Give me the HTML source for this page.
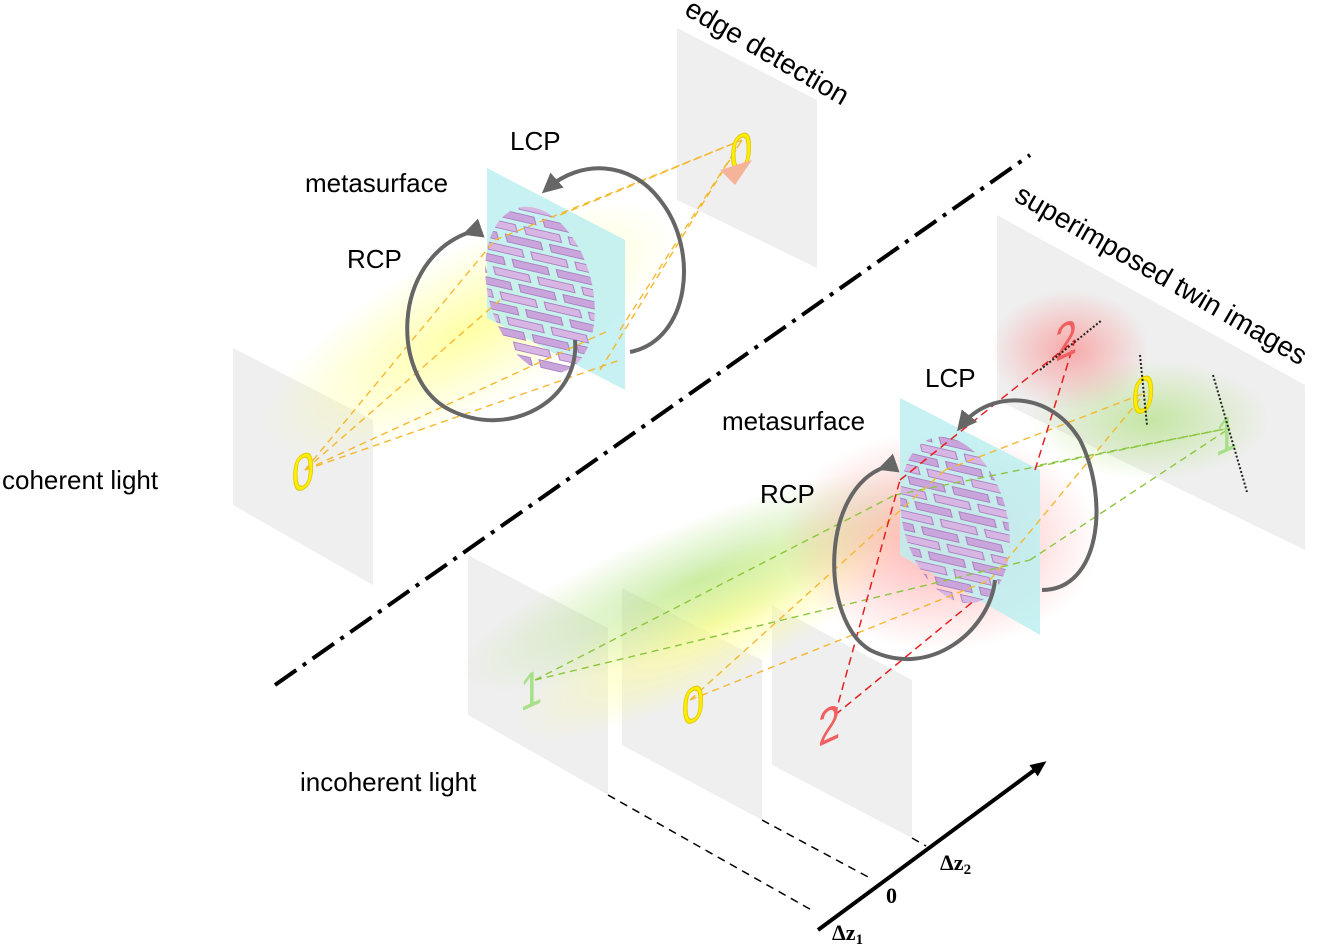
<!DOCTYPE html>
<html><head><meta charset="utf-8"><style>
html,body{margin:0;padding:0;background:#fff;}
svg{display:block;font-family:"Liberation Sans",Arial,sans-serif;}
</style></head><body>
<svg width="1328" height="945" viewBox="0 0 1328 945" xmlns="http://www.w3.org/2000/svg">
<defs>
<radialGradient id="gy"><stop offset="0" stop-color="#ffff80" stop-opacity=".7"/><stop offset="1" stop-color="#ffff80" stop-opacity="0"/></radialGradient>
<radialGradient id="gg"><stop offset="0" stop-color="#a8e070" stop-opacity=".6"/><stop offset="1" stop-color="#a8e070" stop-opacity="0"/></radialGradient>
<radialGradient id="gr"><stop offset="0" stop-color="#ff7070" stop-opacity=".55"/><stop offset="1" stop-color="#ff7070" stop-opacity="0"/></radialGradient>
<pattern id="bricks" width="40" height="26" patternUnits="userSpaceOnUse" patternTransform="skewY(28)">
<rect x="1" y="2" width="32" height="8" fill="#c9a5dc" stroke="#a87fc0" stroke-width="1"/>
<rect x="-19" y="15" width="32" height="8" fill="#d8b6e4" stroke="#a87fc0" stroke-width="1"/>
<rect x="21" y="15" width="32" height="8" fill="#d8b6e4" stroke="#a87fc0" stroke-width="1"/>
</pattern>
<marker id="ah" markerUnits="userSpaceOnUse" markerWidth="16" markerHeight="14" refX="8" refY="7" orient="auto"><path d="M0,0 L16,7 L0,14 z" fill="#000"/></marker>
<marker id="ahg" markerWidth="5" markerHeight="5" refX="3" refY="2.5" orient="auto"><path d="M0,0 L5,2.5 L0,5 z" fill="#666"/></marker>
</defs>

<polygon points="233,348 373,420 373,585 233,505" fill="#efefef"/>
<polygon points="677,28 817,100 817,268 677,200" fill="#efefef"/>
<polygon points="997,215 1305,385 1305,550 997,400" fill="#efefef"/>
<polygon points="468,555 608,628 608,795 468,715" fill="#efefef"/>
<polygon points="622,588 762,660 762,820 622,745" fill="#efefef"/>
<polygon points="772,605 912,680 912,838 772,765" fill="#efefef"/>

<ellipse cx="470" cy="330" rx="230" ry="80" transform="rotate(-28 470 330)" fill="url(#gy)"/>
<ellipse cx="720" cy="620" rx="230" ry="60" transform="rotate(-28 720 620)" fill="url(#gy)"/>
<ellipse cx="700" cy="580" rx="260" ry="60" transform="rotate(-22 700 580)" fill="url(#gg)"/>
<ellipse cx="940" cy="540" rx="160" ry="110" fill="url(#gr)"/>
<ellipse cx="1150" cy="420" rx="120" ry="60" fill="url(#gg)"/>
<ellipse cx="1070" cy="350" rx="80" ry="60" fill="url(#gr)"/>

<polygon points="487,168 625,240 625,390 487,318" fill="#bdeff0" opacity=".85"/>
<polygon points="900,398 1040,470 1040,635 900,555" fill="#bdeff0" opacity=".85"/>
<ellipse cx="540" cy="290" rx="52" ry="85" transform="rotate(-15 540 290)" fill="url(#bricks)"/>
<ellipse cx="955" cy="520" rx="52" ry="85" transform="rotate(-15 955 520)" fill="url(#bricks)"/>

<g stroke="#f5b82e" stroke-width="1.4" stroke-dasharray="7,5" fill="none">
<line x1="305" y1="470" x2="495" y2="240"/><line x1="305" y1="470" x2="620" y2="360"/>
<line x1="305" y1="470" x2="500" y2="300"/><line x1="305" y1="470" x2="610" y2="330"/>
<line x1="495" y1="240" x2="742" y2="140"/><line x1="620" y1="330" x2="742" y2="140"/>
<line x1="560" y1="215" x2="742" y2="140"/><line x1="600" y1="370" x2="742" y2="140"/>
</g>
<g stroke="#8cc63f" stroke-width="1.4" stroke-dasharray="7,5" fill="none">
<line x1="535" y1="680" x2="895" y2="495"/><line x1="535" y1="680" x2="1030" y2="560"/>
<line x1="895" y1="495" x2="1230" y2="428"/><line x1="1030" y1="560" x2="1230" y2="428"/>
<line x1="1040" y1="465" x2="1230" y2="428"/>
</g>
<g stroke="#f5b82e" stroke-width="1.4" stroke-dasharray="7,5" fill="none">
<line x1="690" y1="700" x2="945" y2="470"/><line x1="690" y1="700" x2="990" y2="580"/>
<line x1="945" y1="470" x2="1145" y2="393"/><line x1="990" y1="580" x2="1145" y2="393"/>
</g>
<g stroke="#e52020" stroke-width="1.5" stroke-dasharray="8,5" fill="none">
<line x1="835" y1="715" x2="900" y2="480"/><line x1="835" y1="715" x2="975" y2="600"/>
<line x1="900" y1="480" x2="1075" y2="340"/><line x1="1035" y1="470" x2="1075" y2="340"/>
</g>

<g font-size="50" fill="#ffee00" stroke="#e0c800" stroke-width="1">
<text x="292" y="494" transform="translate(292 494) scale(.8 1) skewY(-20) translate(-292 -494)">0</text>
<text x="682" y="727" transform="translate(682 727) scale(.8 1) skewY(-20) translate(-682 -727)">0</text>
<text x="730" y="174" transform="translate(730 174) scale(.8 1) skewY(-20) translate(-730 -174)">0</text>
<text x="1132" y="417" transform="translate(1132 417) scale(.8 1) skewY(-20) translate(-1132 -417)">0</text>
</g>
<g font-size="50" fill="#a8e08a">
<text x="520" y="712" transform="translate(520 712) scale(.8 1) skewY(-20) translate(-520 -712)">1</text>
<text x="1215" y="457" transform="translate(1215 457) scale(.8 1) skewY(-20) translate(-1215 -457)">1</text>
</g>
<g font-size="50" fill="#f06060">
<text x="818" y="747" transform="translate(818 747) scale(.8 1) skewY(-20) translate(-818 -747)">2</text>
<text x="1055" y="362" transform="translate(1055 362) scale(.8 1) skewY(-20) translate(-1055 -362)">2</text>
</g>
<path d="M720,170 L752,160 L735,185 Z" fill="#f5b49a"/>
<g stroke="#222" stroke-width="2" stroke-dasharray="2,2">
<line x1="1040" y1="370" x2="1102" y2="320"/><line x1="1140" y1="355" x2="1147" y2="425"/>
<line x1="1213" y1="375" x2="1247" y2="492"/>
</g>

<g fill="none" stroke="#666" stroke-width="4">
<path d="M 470,232 C 390,260 390,380 450,410 C 510,440 580,400 575,340" marker-start="url(#ahg)"/>
<path d="M 630,352 C 690,340 700,250 660,200 C 630,160 580,160 548,188" marker-end="url(#ahg)"/>
<path d="M 885,467 C 820,490 820,620 870,650 C 930,680 990,630 995,580" marker-start="url(#ahg)"/>
<path d="M 1042,590 C 1100,590 1110,500 1080,440 C 1050,390 990,390 962,425" marker-end="url(#ahg)"/>
</g>

<line x1="275" y1="685" x2="1030" y2="155" stroke="#000" stroke-width="4" stroke-dasharray="26,8,4,8"/>

<line x1="818" y1="930" x2="1040" y2="766" stroke="#000" stroke-width="4" marker-end="url(#ah)"/>
<g stroke="#000" stroke-width="1.5" stroke-dasharray="8,6">
<line x1="608" y1="795" x2="815" y2="912"/>
<line x1="762" y1="820" x2="870" y2="878"/>
<line x1="912" y1="838" x2="926" y2="846"/>
</g>
<g font-family="Liberation Serif,serif" font-weight="bold" font-size="22" fill="#000">
<text x="832" y="940">Δz<tspan font-size="15" dy="4">1</tspan></text>
<text x="886" y="903">0</text>
<text x="940" y="870">Δz<tspan font-size="15" dy="4">2</tspan></text>
</g>

<g font-size="26" fill="#000">
<text x="2" y="489">coherent light</text>
<text x="300" y="791">incoherent light</text>
<text x="305" y="192">metasurface</text>
<text x="510" y="150">LCP</text>
<text x="347" y="268">RCP</text>
<text x="722" y="430">metasurface</text>
<text x="925" y="387">LCP</text>
<text x="760" y="503">RCP</text>
<text x="683" y="14" font-size="28" transform="rotate(30 683 14)">edge detection</text>
<text x="1013" y="200" font-size="28" transform="rotate(30 1013 200)">superimposed twin images</text>
</g>
</svg>
</body></html>
